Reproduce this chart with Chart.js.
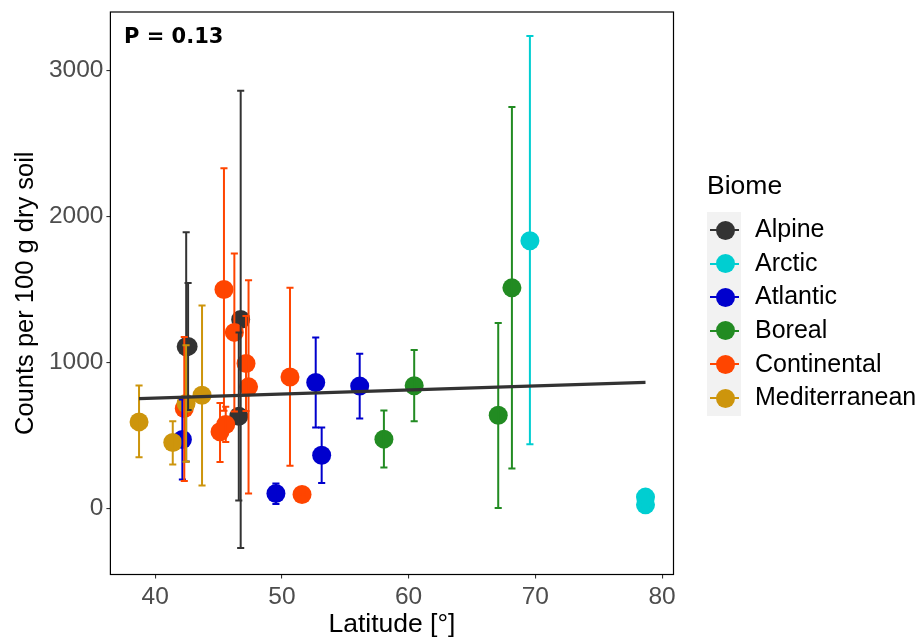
<!DOCTYPE html>
<html>
<head>
<meta charset="utf-8">
<script src="https://cdn.jsdelivr.net/npm/chart.js@4.4.0/dist/chart.umd.min.js"></script>
<style>
html,body{margin:0;padding:0;background:#fff;}
#wrap{position:relative;width:920px;height:637px;overflow:hidden;}
canvas{position:absolute;left:0;top:0;}
.txt{position:absolute;white-space:nowrap;font-family:'Liberation Sans',Arial,sans-serif;color:#000;}
#ptext{font-family:'DejaVu Sans',sans-serif;font-weight:bold;font-size:21px;line-height:21px;left:124px;top:25.5px;}
#keybox{position:absolute;left:707px;top:212px;width:34px;height:204px;background:#F2F2F2;}
.kline{position:absolute;height:2px;}
.kdot{position:absolute;width:19px;height:19px;border-radius:50%;}
</style>
</head>
<body>
<div id="wrap">
<canvas id="c" width="920" height="637"></canvas>
<div id="ptext" class="txt">P = 0.13</div>
<div id="legend"></div>
</div>
<script>
// ---- data ----
const biomes = ['Alpine', 'Arctic', 'Atlantic', 'Boreal', 'Continental', 'Mediterranean'];
const biomeColors = ['#333333', '#00CED1', '#0000CD', '#228B22', '#FF4500', '#CD950C'];

const alpineLat   = [42.45, 42.6, 46.75, 46.6];
const alpineCount = [1107, 1110, 1294, 632];
const alpineLow   = [322, 675, -270, 55];
const alpineHigh  = [1892, 1545, 2860, 1205];

const arcticLat   = [69.57, 78.69, 78.69];
const arcticCount = [1833, 78, 25];
const arcticLow   = [440, 60, 10];
const arcticHigh  = [3235, 96, 40];

const atlanticLat   = [42.15, 49.53, 52.67, 53.14, 56.14];
const atlanticCount = [473, 103, 863, 365, 838];
const atlanticLow   = [199, 30, 555, 175, 616];
const atlanticHigh  = [747, 172, 1171, 555, 1059];

const borealLat   = [58.05, 60.44, 67.07, 68.15];
const borealCount = [475, 840, 639, 1511];
const borealLow   = [281, 598, 4, 274];
const borealHigh  = [671, 1086, 1271, 2749];

const continentalLat   = [42.3, 45.12, 45.43, 45.57, 46.25, 47.17, 47.37, 50.64, 51.59];
const continentalCount = [685, 525, 1500, 575, 1206, 993, 833, 901, 96];
const continentalLow   = [189, 319, 670, 456, 665, 667, 103, 292, 80];
const continentalHigh  = [1175, 723, 2330, 696, 1747, 1319, 1563, 1511, 112];

const mediterraneanLat   = [38.73, 41.39, 42.44, 43.7];
const mediterraneanCount = [593, 452, 719, 776];
const mediterraneanLow   = [351, 301, 320, 157];
const mediterraneanHigh  = [842, 598, 1118, 1390];

const regLat   = [38.73, 78.69];
const regCount = [753, 863];

const xTicks = [40, 50, 60, 70, 80];
const yTicks = [0, 1000, 2000, 3000];
const xRange = [36.47, 80.9];
const yRange = [-452, 3400];
const capHalfWidth = 0.28;

// ---- assemble ----
const groups = [
  {lat: alpineLat, count: alpineCount, low: alpineLow, high: alpineHigh},
  {lat: arcticLat, count: arcticCount, low: arcticLow, high: arcticHigh},
  {lat: atlanticLat, count: atlanticCount, low: atlanticLow, high: atlanticHigh},
  {lat: borealLat, count: borealCount, low: borealLow, high: borealHigh},
  {lat: continentalLat, count: continentalCount, low: continentalLow, high: continentalHigh},
  {lat: mediterraneanLat, count: mediterraneanCount, low: mediterraneanLow, high: mediterraneanHigh}
];

const FONT = "'Liberation Sans', Arial, sans-serif";

const datasets = groups.map((g, k) => ({
  type: 'scatter',
  label: biomes[k],
  data: g.lat.map((x, i) => ({x: x, y: g.count[i]})),
  backgroundColor: biomeColors[k],
  pointBackgroundColor: biomeColors[k],
  pointBorderWidth: 0,
  borderWidth: 0,
  pointRadius: 9.5,
  pointHoverRadius: 9.5,
  order: biomes.length - k
}));
const regIndex = datasets.length;
datasets.push({
  type: 'line',
  label: 'fit',
  data: regLat.map((x, i) => ({x: x, y: regCount[i]})),
  borderColor: '#333333',
  borderWidth: 3.2,
  pointRadius: 0,
  showLine: true,
  fill: false,
  order: 0
});

const errPlugin = {
  id: 'errbars',
  beforeDatasetDraw(chart, args) {
    if (args.index !== regIndex) return;
    const ctx = chart.ctx, xs = chart.scales.x, ys = chart.scales.y;
    ctx.save();
    ctx.lineWidth = 2;
    ctx.lineCap = 'butt';
    groups.forEach((g, k) => {
      ctx.strokeStyle = biomeColors[k];
      g.lat.forEach((lat, i) => {
        const px = xs.getPixelForValue(lat);
        const hw = xs.getPixelForValue(lat + capHalfWidth) - px;
        const yl = ys.getPixelForValue(g.low[i]);
        const yh = ys.getPixelForValue(g.high[i]);
        ctx.beginPath();
        ctx.moveTo(px, yl); ctx.lineTo(px, yh);
        ctx.moveTo(px - hw, yl); ctx.lineTo(px + hw, yl);
        ctx.moveTo(px - hw, yh); ctx.lineTo(px + hw, yh);
        ctx.stroke();
      });
    });
    ctx.restore();
  }
};

const framePlugin = {
  id: 'frame',
  afterDraw(chart) {
    const {left, top, right, bottom} = chart.chartArea;
    const ctx = chart.ctx;
    ctx.save();
    ctx.strokeStyle = '#000';
    ctx.lineWidth = 1.2;
    ctx.strokeRect(left, top, right - left, bottom - top);
    ctx.restore();
  }
};

new Chart(document.getElementById('c'), {
  type: 'scatter',
  data: {datasets: datasets},
  options: {
    responsive: false,
    animation: false,
    events: [],
    layout: {padding: {left: 0, top: 12, right: 920 - 673.5, bottom: 0}},
    plugins: {legend: {display: false}, tooltip: {enabled: false}},
    scales: {
      x: {
        type: 'linear', min: xRange[0], max: xRange[1],
        afterBuildTicks: s => { s.ticks = xTicks.map(v => ({value: v})); },
        afterFit: s => { s.height = 637 - 574.5; s.paddingLeft = 0; s.paddingRight = 0; },
        grid: {display: true, drawOnChartArea: false, drawTicks: true, tickLength: 4, tickColor: '#333333', lineWidth: 1.1},
        border: {display: false},
        ticks: {font: {family: FONT, size: 24.5}, color: '#4D4D4D', padding: 4.5, maxRotation: 0, autoSkip: false, callback: v => String(v)},
        title: {display: true, text: 'Latitude [°]', font: {family: FONT, size: 26.5, lineHeight: 0.8}, color: '#000', padding: {top: 0, bottom: 2}}
      },
      y: {
        type: 'linear', min: yRange[0], max: yRange[1],
        afterBuildTicks: s => { s.ticks = yTicks.map(v => ({value: v})); },
        afterFit: s => { s.width = 110.4; s.paddingTop = 0; s.paddingBottom = 0; },
        grid: {display: true, drawOnChartArea: false, drawTicks: true, tickLength: 4, tickColor: '#333333', lineWidth: 1.1},
        border: {display: false},
        ticks: {font: {family: FONT, size: 24.5}, color: '#4D4D4D', padding: 3, autoSkip: false, callback: v => String(v)},
        title: {display: true, text: 'Counts per 100 g dry soil', font: {family: FONT, size: 25.5, lineHeight: 1.2}, color: '#000', padding: {top: 11, bottom: 0}}
      }
    }
  },
  plugins: [errPlugin, framePlugin]
});

// ---- legend (HTML) ----
const legend = document.getElementById('legend');
const title = document.createElement('div');
title.className = 'txt';
title.textContent = 'Biome';
title.style.cssText = 'left:707px;top:172px;font-size:26.5px;line-height:26.5px;';
legend.appendChild(title);
const box = document.createElement('div');
box.id = 'keybox';
legend.appendChild(box);
biomes.forEach((b, k) => {
  const cy = 230 + k * 33.6;
  const ln = document.createElement('div');
  ln.className = 'kline';
  ln.style.cssText = `left:710px;top:${cy - 1}px;width:29px;background:${biomeColors[k]};`;
  legend.appendChild(ln);
  const dot = document.createElement('div');
  dot.className = 'kdot';
  dot.style.cssText = `left:${725 - 9.5}px;top:${cy - 9.5}px;background:${biomeColors[k]};`;
  legend.appendChild(dot);
  const t = document.createElement('div');
  t.className = 'txt';
  t.textContent = b;
  t.style.cssText = `left:755px;top:${cy - 13.9}px;font-size:25px;line-height:25px;`;
  legend.appendChild(t);
});
</script>
</body>
</html>
